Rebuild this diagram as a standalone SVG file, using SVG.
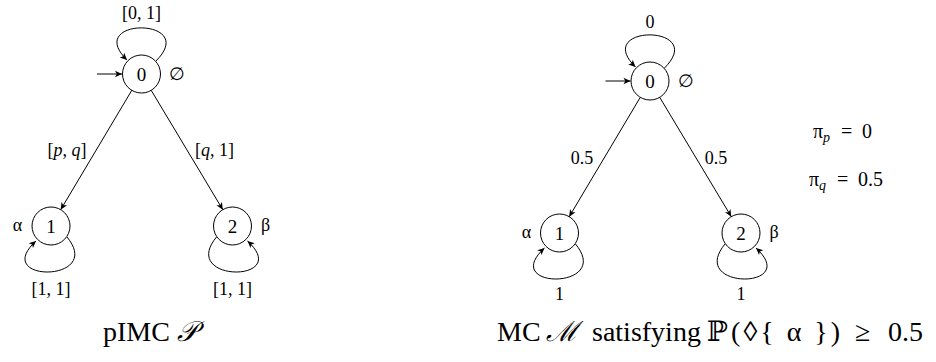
<svg xmlns="http://www.w3.org/2000/svg" width="936" height="362" viewBox="0 0 936 362">
<defs>
<marker id="ah" viewBox="-8 -4 9 8" refX="0" refY="0" markerWidth="9" markerHeight="8" markerUnits="userSpaceOnUse" orient="auto">
<path d="M0,0 L-7,-3.2 L-5.2,0 L-7,3.2 Z" fill="#000"/>
</marker>
</defs>
<style>
text{font-family:"Liberation Serif","DejaVu Serif",serif;fill:#000;text-anchor:middle}
.n{font-size:19px}
.l{font-size:18px}
.st{fill:none;stroke:#000;stroke-width:1}
.e{fill:none;stroke:#000;stroke-width:1;marker-end:url(#ah)}
.cap{font-size:28px}
.cap2{font-size:28px;text-anchor:start}
.pi{font-size:20px;text-anchor:start}
</style>
<rect width="936" height="362" fill="#fff"/>

<!-- Left: pIMC -->
<g id="pimc">
<g id="pimc-connectors">
<path class="e" d="M97,74 L122,74"/>
<path class="e" d="M156,61 C200,17 83,17 127,60"/>
<path class="e" d="M131.8,90.3 L60.7,209.7"/>
<path class="e" d="M151.2,90.3 L222.8,209.7"/>
<path class="e" d="M67,237 C105,283 -10,283 36,241"/>
<path class="e" d="M216.5,237 C178.5,283 293.5,283 247.5,241"/>
<text class="l" x="141.5" y="19">[0, 1]</text>
<text class="l" x="67" y="156">[<tspan font-style="italic">p</tspan>, <tspan font-style="italic">q</tspan>]</text>
<text class="l" x="214.5" y="156">[<tspan font-style="italic">q</tspan>, 1]</text>
<text class="l" x="51" y="295">[1, 1]</text>
<text class="l" x="232.5" y="295">[1, 1]</text>
</g>
<g id="pimc-s0"><circle class="st" cx="141.5" cy="74" r="19"/><text class="n" x="141.5" y="80.5">0</text><text class="l" x="177" y="80">∅</text></g>
<g id="pimc-s1"><circle class="st" cx="51" cy="226" r="19"/><text class="n" x="51" y="232.5">1</text><text class="l" x="17.5" y="231">α</text></g>
<g id="pimc-s2"><circle class="st" cx="232.5" cy="226" r="19"/><text class="n" x="232.5" y="232.5">2</text><text class="l" x="265.5" y="231">β</text></g>
<text class="cap" x="150" y="341">pIMC <tspan font-style="italic">𝒫</tspan></text>
</g>

<!-- Right: MC -->
<g id="mc" transform="translate(508.5,7)">
<g id="mc-connectors">
<path class="e" d="M97,74 L122,74"/>
<path class="e" d="M156,61 C200,17 83,17 127,60"/>
<path class="e" d="M131.8,90.3 L60.7,209.7"/>
<path class="e" d="M151.2,90.3 L222.8,209.7"/>
<path class="e" d="M67,237 C105,283 -10,283 36,241"/>
<path class="e" d="M216.5,237 C178.5,283 293.5,283 247.5,241"/>
<text class="l" x="141.5" y="21">0</text>
<text class="l" x="73.5" y="157">0.5</text>
<text class="l" x="207.5" y="157">0.5</text>
<text class="l" x="51" y="293">1</text>
<text class="l" x="232.5" y="293">1</text>
</g>
<g id="mc-s0"><circle class="st" cx="141.5" cy="74" r="19"/><text class="n" x="141.5" y="80.5">0</text><text class="l" x="177" y="80">∅</text></g>
<g id="mc-s1"><circle class="st" cx="51" cy="226" r="19"/><text class="n" x="51" y="232.5">1</text><text class="l" x="18" y="231">α</text></g>
<g id="mc-s2"><circle class="st" cx="232.5" cy="226" r="19"/><text class="n" x="232.5" y="232.5">2</text><text class="l" x="265.5" y="231">β</text></g>
</g>

<g id="params">
<text class="pi" x="813" y="138">π<tspan font-style="italic" font-size="14" dy="4">p</tspan><tspan dy="-4" x="841">=</tspan><tspan x="862">0</tspan></text>
<text class="pi" x="809" y="186">π<tspan font-style="italic" font-size="14" dy="4">q</tspan><tspan dy="-4" x="837">=</tspan><tspan x="858">0.5</tspan></text>
</g>
<text class="cap2" x="497" y="341">MC <tspan x="546" font-style="italic">ℳ</tspan><tspan x="592">satisfying</tspan><tspan x="707" letter-spacing="3">ℙ(◊{ α })</tspan><tspan x="855">≥</tspan><tspan x="888">0.5</tspan></text>
</svg>
